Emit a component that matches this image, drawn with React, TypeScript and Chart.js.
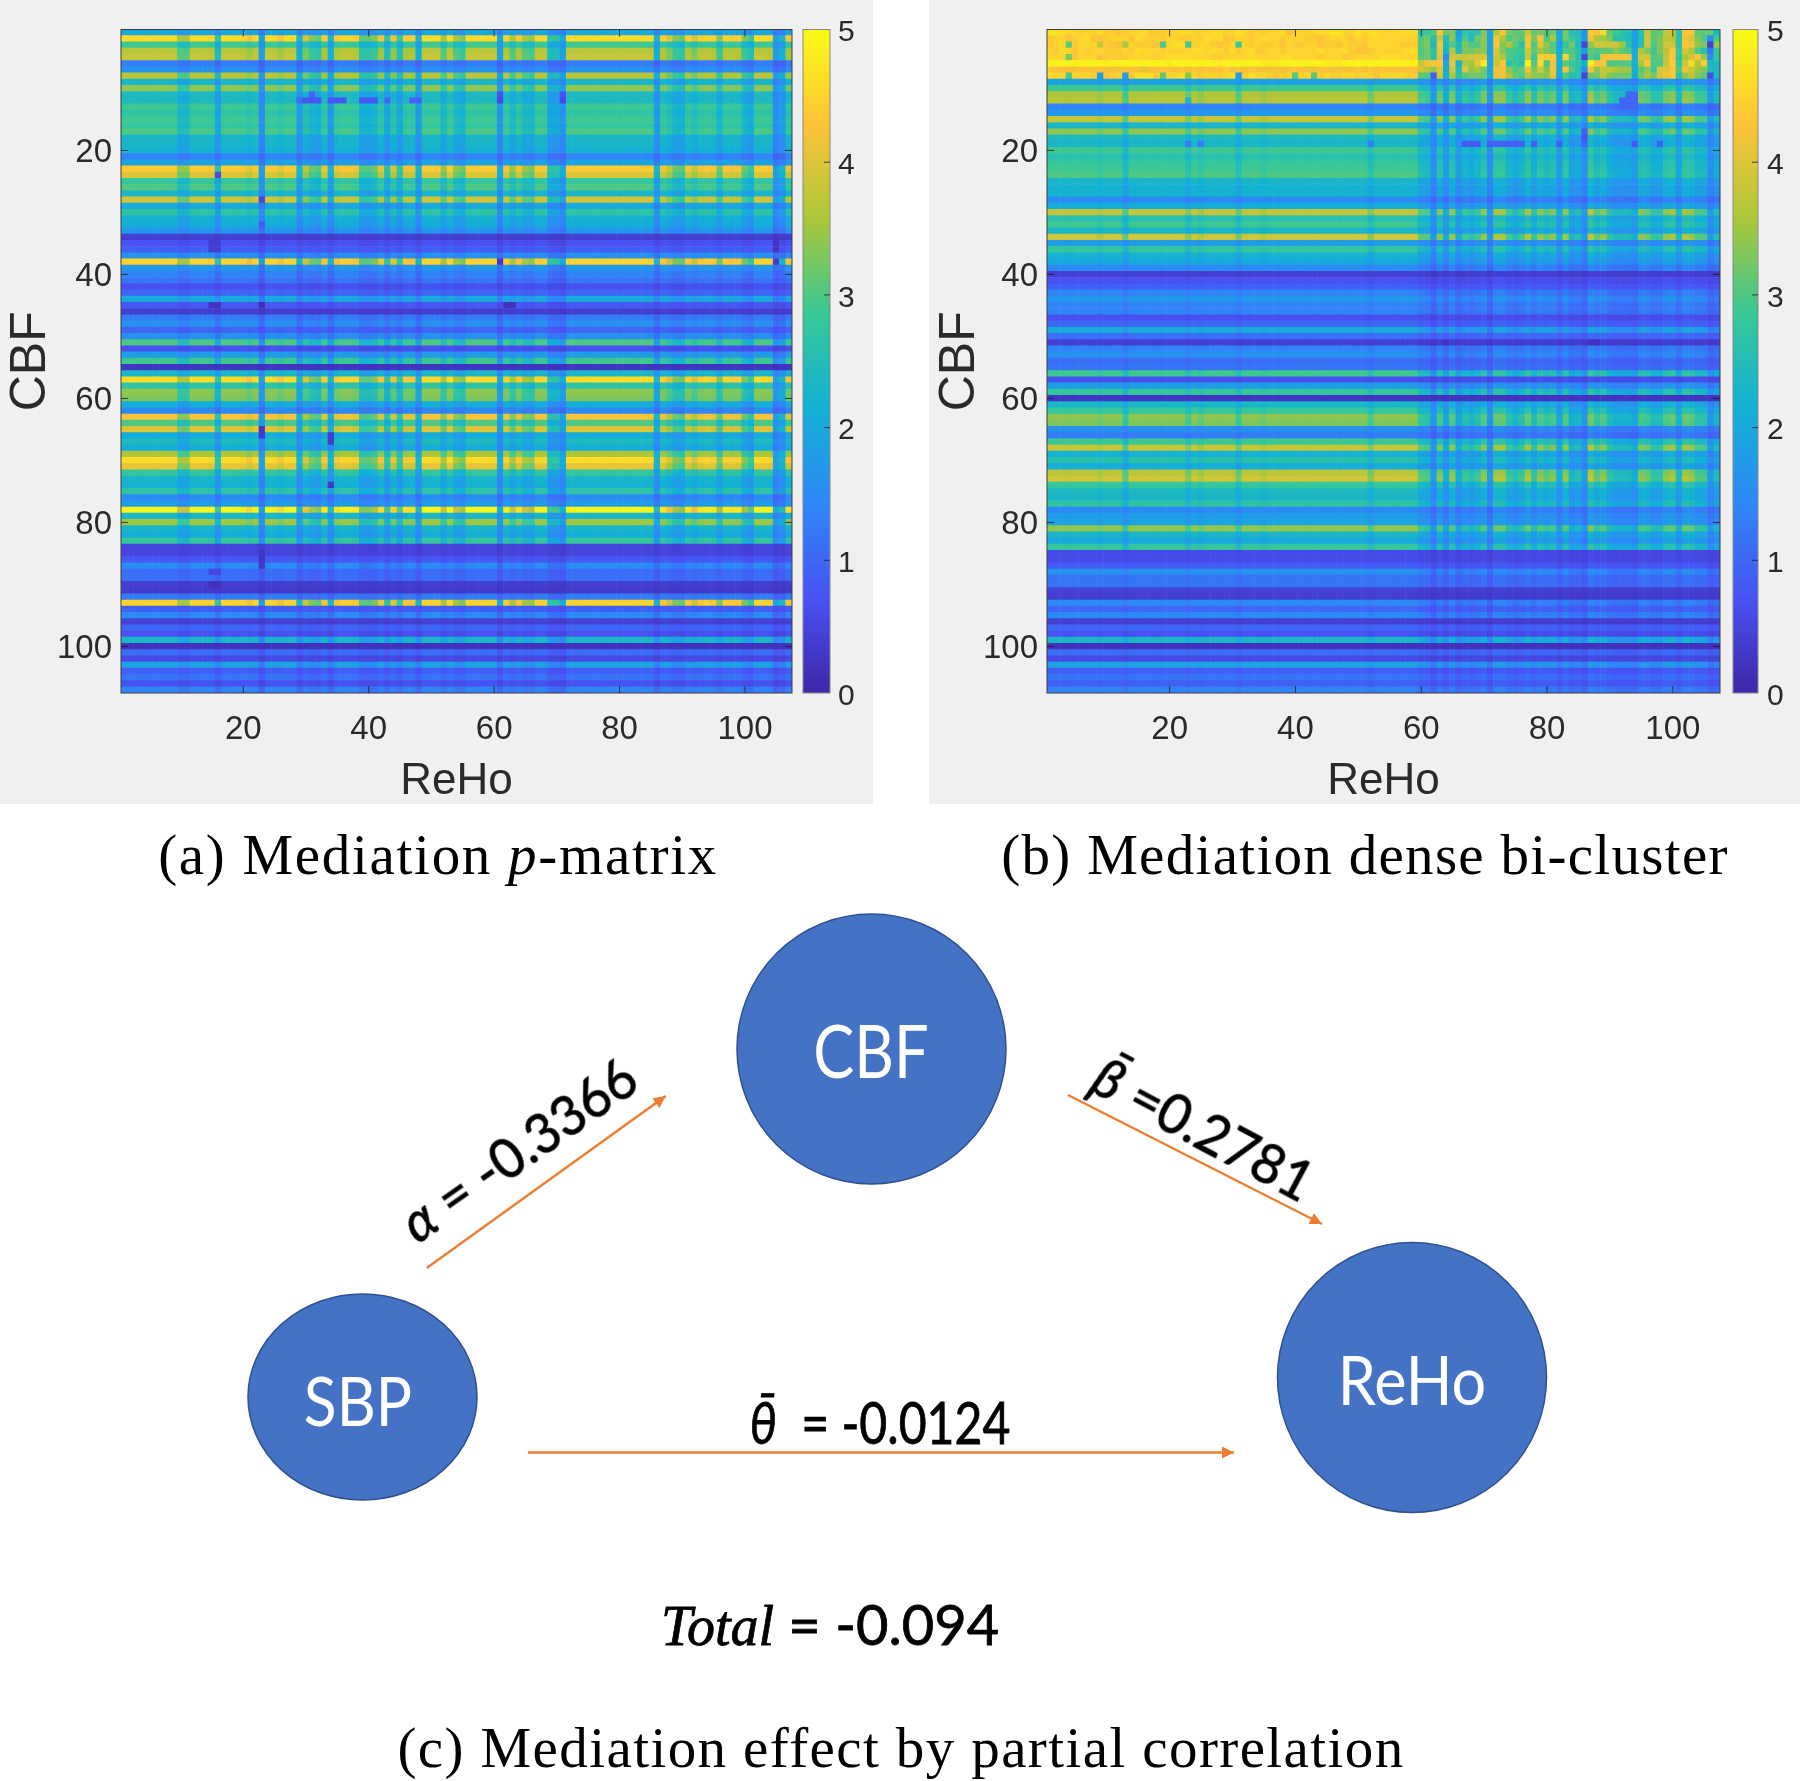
import React, { useEffect, useRef } from "react";
import { Chart, registerables } from "chart.js";

Chart.register(...registerables);

// Heatmap values: read from the reference as one level per CBF row, one factor per ReHo column,
// and lists of individually read cells. The picture's full 107x107 grid is not typed out cell by cell.
const axisTicks = [20, 40, 60, 80, 100];
const colorbarTicks = [0, 1, 2, 3, 4, 5];

const rowsA = [
  2.0, 4.6, 2.9, 3.7, 3.8, 1.3, 1.6, 3.7, 2.3, 3.4,
  2.4, 2.4, 2.9, 2.7, 2.9, 2.8, 3.0, 2.3, 2.3, 2.2,
  1.4, 1.9, 4.4, 4.0, 2.8, 3.0, 2.3, 3.9, 2.0, 2.7,
  2.2, 2.1, 1.7, 0.4, 0.7, 0.9, 1.6, 4.5, 1.7, 1.4,
  1.2, 0.7, 1.0, 2.0, 0.8, 0.4, 1.3, 1.6, 1.0, 1.6,
  3.0, 0.7, 1.8, 2.9, 0.25, 2.3, 4.6, 2.7, 3.4, 3.3,
  2.1, 1.5, 4.3, 3.0, 4.0, 2.1, 2.4, 2.1, 3.6, 4.6,
  4.1, 2.8, 2.3, 2.2, 2.7, 1.5, 1.8, 4.95, 2.3, 3.5,
  2.3, 2.1, 2.8, 0.5, 0.5, 0.8, 1.5, 1.1, 1.1, 0.4,
  0.35, 1.3, 4.5, 0.9, 1.5, 0.45, 1.0, 0.7, 2.3, 0.2,
  1.1, 0.6, 1.9, 0.9, 1.2, 0.7, 1.4,
];

const colsA = [
  1, 1, 1, 1, 1, 1, 1, 1, 1, 0.72,
  0.72, 1, 0.98, 1, 0.95, 0.6, 1, 1, 1, 0.95,
  0.85, 0.97, 0.5, 0.98, 0.95, 0.85, 1, 1, 0.55, 0.78,
  0.68, 0.65, 0.88, 0.55, 0.88, 0.95, 0.95, 0.9, 0.65, 0.65,
  0.68, 0.85, 0.6, 0.82, 0.62, 0.88, 0.88, 0.55, 1, 1,
  0.97, 0.72, 1, 0.72, 0.68, 1, 1, 1, 1, 1,
  0.52, 0.92, 0.72, 0.88, 0.72, 0.7, 0.95, 0.95, 0.6, 0.6,
  0.52, 1, 1, 1, 0.98, 1, 1, 0.98, 1, 1,
  1, 0.98, 1, 1, 1, 0.55, 0.9, 0.78, 0.68, 0.66,
  0.9, 0.78, 0.9, 0.95, 0.9, 0.68, 0.92, 0.9, 0.9, 0.68,
  0.62, 1, 1, 0.95, 0.5, 0.55, 0.85,
];

// [row, first column, last column, value]
const cellsA = [
  [12, 29, 29, 1.1], [12, 30, 32, 0.75], [12, 34, 36, 0.8], [12, 39, 41, 0.8], [12, 43, 43, 1.0], [12, 47, 48, 0.9],
  [11, 31, 31, 1.0], [11, 61, 61, 0.7], [12, 61, 61, 0.6], [12, 71, 71, 0.6], [11, 71, 71, 0.7],
  [35, 15, 16, 0.4], [36, 15, 16, 0.4], [45, 15, 16, 0.25], [45, 23, 23, 0.15], [45, 62, 63, 0.2],
  [65, 23, 23, 0.3], [66, 23, 23, 0.3], [66, 34, 34, 0.35], [67, 34, 34, 0.35], [74, 34, 34, 0.3],
  [85, 23, 23, 0.25], [86, 23, 23, 0.25], [87, 23, 23, 0.3], [88, 15, 16, 0.5], [90, 15, 16, 0.2],
  [28, 23, 23, 0.55], [24, 16, 16, 0.6], [32, 23, 23, 0.8], [38, 61, 61, 0.35], [38, 105, 105, 0.4],
  [36, 105, 105, 0.25], [35, 105, 105, 0.25], [34, 105, 105, 0.25],
];

const rowsB = [
  4.5, 4.4, 4.4, 4.5, 4.5, 4.95, 4.3, 4.4, 1.9, 2.9,
  3.6, 3.7, 1.4, 1.7, 3.8, 2.3, 3.4, 2.4, 2.3, 2.9,
  2.6, 2.8, 2.9, 3.0, 2.3, 2.2, 2.2, 1.5, 2.1, 3.8,
  2.6, 2.9, 2.3, 3.9, 1.8, 2.8, 2.2, 2.0, 1.5, 0.4,
  0.7, 0.9, 1.4, 1.7, 1.4, 1.4, 0.7, 1.0, 2.0, 1.1,
  0.4, 1.4, 1.6, 1.1, 1.2, 2.9, 0.7, 1.8, 2.8, 0.25,
  2.3, 2.8, 3.4, 3.3, 1.6, 1.3, 2.9, 3.8, 2.2, 2.6,
  2.1, 3.7, 3.9, 2.8, 2.4, 2.3, 2.7, 1.5, 1.8, 1.9,
  3.4, 2.3, 2.0, 2.8, 0.6, 0.6, 0.85, 1.6, 1.2, 1.2,
  0.45, 0.4, 1.5, 1.0, 1.5, 0.4, 1.0, 0.7, 2.3, 0.2,
  1.1, 0.6, 1.9, 0.9, 1.2, 0.9, 1.4,
];

const colsB = [
  1, 1, 1, 0.95, 1, 1, 1, 1, 0.88, 1,
  1, 1, 0.72, 1, 1, 1, 1, 1, 1, 1,
  1, 1, 0.78, 1, 0.85, 1, 1, 1, 1, 1,
  0.75, 1, 1, 1, 0.88, 1, 1, 1, 1, 1,
  1, 1, 1, 1, 1, 1, 1, 1, 1, 1,
  1, 0.78, 1, 1, 1, 1, 1, 1, 1, 0.72,
  0.7, 0.5, 0.78, 0.55, 0.8, 0.55, 0.68, 0.62, 0.68, 0.8,
  0.5, 0.85, 0.85, 0.68, 0.62, 0.68, 0.85, 0.65, 0.8, 0.72,
  0.78, 0.55, 0.8, 0.58, 0.62, 0.5, 0.9, 0.72, 0.8, 0.65,
  0.6, 0.6, 0.6, 0.55, 0.78, 0.75, 0.65, 0.65, 0.8, 0.85,
  0.6, 0.85, 0.82, 0.7, 0.7, 0.5, 0.6,
];

// Rows 1-8 of panel (b), columns 1-59, read cell by cell: each digit d means 4 + d / 10.
const topLeftB = [
  "77755455644345564445566555665575454556345556677557566555666",
  "45534563345553654545544546563455456554555443455535456555555",
  "45644555643255444345665555434555454453544553443544355555444",
  "54653545544454655545555665654645644554555556555643345555566",
  "55543555344445555456666555445555655556655554555345555666555",
  "99999999989999999998999999989999998889999999888999999999999",
  "43322333322233212333232323334232322222233223322223232333333",
  "65575554434554666465566545545654655434565554544554553555544",
];

// Rows 1-8 of panel (b), columns 60-107, read cell by cell.
const topRightB = [
  [2.7, 2.8, 3.0, 4.3, 3.2, 3.3, 1.8, 2.7, 2.5, 2.6, 3.3, 1.9, 3.6, 4.3, 3.3, 3.1, 3.1, 3.8, 3.1, 3.3, 3.0, 3.2, 1.9, 3.2, 2.5, 2.5, 1.6, 4.4, 4.3, 4.6, 3.1, 2.9, 2.6, 2.5, 1.8, 2.6, 3.8, 3.1, 3.1, 3.8, 3.8, 2.5, 4.3, 4.3, 3.1, 3.1, 3.1, 2.3],
  [3.0, 3.2, 2.6, 3.8, 2.5, 3.4, 2.0, 3.0, 2.4, 3.2, 3.4, 1.9, 4.2, 3.6, 3.0, 3.2, 3.0, 4.2, 3.3, 4.2, 3.0, 3.6, 2.0, 3.2, 2.8, 2.6, 1.8, 4.2, 3.6, 3.5, 3.3, 2.6, 2.6, 2.5, 1.9, 2.5, 3.9, 3.1, 3.3, 3.7, 3.7, 2.6, 4.2, 3.9, 3.3, 3.0, 1.5, 2.9],
  [3.1, 3.3, 2.4, 4.2, 2.4, 3.0, 2.4, 3.3, 3.0, 3.0, 3.4, 1.9, 4.3, 3.3, 3.6, 3.1, 2.6, 4.2, 3.0, 4.0, 3.4, 3.0, 1.8, 2.8, 3.2, 2.4, 0.5, 3.4, 3.9, 3.9, 3.9, 3.9, 3.5, 2.6, 1.8, 2.5, 3.9, 3.0, 3.3, 3.9, 3.9, 2.6, 4.3, 4.2, 3.4, 3.3, 0.4, 3.4],
  [3.0, 3.2, 2.6, 4.1, 2.2, 3.7, 2.4, 3.3, 3.2, 3.4, 3.4, 1.9, 4.0, 3.3, 3.0, 2.9, 2.8, 3.9, 3.1, 3.5, 3.3, 3.1, 2.0, 3.0, 3.0, 2.6, 1.8, 3.1, 3.0, 3.1, 3.1, 3.4, 3.1, 3.0, 2.0, 3.6, 3.3, 2.9, 3.3, 3.7, 4.3, 2.8, 3.9, 3.6, 3.0, 2.6, 1.2, 2.8],
  [3.1, 3.2, 2.7, 4.0, 1.5, 3.9, 3.9, 3.8, 3.9, 4.0, 4.0, 1.9, 3.9, 3.6, 3.0, 2.8, 2.7, 3.8, 2.8, 4.4, 4.4, 4.4, 2.2, 4.5, 3.1, 2.6, 0.5, 3.0, 2.8, 4.2, 4.3, 4.3, 4.3, 4.2, 2.1, 3.9, 3.9, 3.0, 3.1, 3.8, 4.3, 2.7, 3.6, 3.9, 4.3, 3.5, 1.6, 2.8],
  [3.8, 4.2, 4.3, 4.3, 1.9, 4.1, 2.2, 3.6, 3.5, 4.1, 4.8, 1.9, 3.8, 4.3, 2.6, 2.9, 2.6, 4.9, 3.0, 4.6, 3.0, 4.2, 2.1, 3.1, 2.8, 2.7, 2.2, 4.9, 4.3, 4.3, 3.0, 3.0, 3.0, 3.0, 2.2, 3.6, 4.3, 3.0, 3.0, 3.8, 4.4, 2.8, 3.9, 4.6, 3.6, 4.4, 2.3, 2.4],
  [3.9, 3.7, 3.4, 4.0, 2.0, 3.9, 2.5, 4.0, 3.4, 3.6, 3.2, 2.0, 4.2, 4.2, 3.4, 3.0, 3.1, 4.1, 3.3, 3.9, 3.3, 4.2, 2.1, 4.2, 3.0, 2.6, 1.5, 4.2, 3.4, 3.8, 3.8, 3.6, 3.5, 3.5, 2.2, 3.1, 3.4, 2.9, 3.9, 4.0, 4.3, 3.0, 4.1, 3.8, 3.5, 3.3, 2.4, 2.4],
  [3.1, 3.0, 0.9, 3.9, 2.2, 3.6, 2.6, 3.1, 3.2, 3.2, 3.2, 2.1, 4.1, 4.2, 3.6, 3.2, 3.0, 3.7, 3.4, 3.4, 3.4, 4.1, 2.0, 3.0, 2.6, 2.6, 0.5, 3.2, 3.2, 3.8, 3.3, 3.2, 3.2, 3.2, 2.0, 3.2, 3.6, 3.2, 3.9, 4.2, 4.4, 2.7, 3.4, 3.8, 3.3, 3.1, 0.6, 2.3],
];

const cellsB = [
  [3, 4, 4, 3.1], [3, 9, 9, 3.8], [3, 13, 13, 3.6], [3, 19, 19, 3.0], [3, 23, 23, 3.0], [3, 31, 31, 2.9],
  [5, 4, 4, 3.2], [8, 4, 4, 3.0], [8, 9, 9, 1.8], [8, 13, 13, 1.8], [8, 19, 19, 3.1], [8, 23, 23, 3.4], [8, 31, 31, 1.8], [8, 40, 40, 3.1], [8, 43, 43, 3.1],
  [18, 86, 86, 0.7], [17, 86, 86, 0.9],
  [19, 67, 69, 0.8], [19, 71, 73, 0.9], [19, 74, 76, 0.9], [19, 78, 78, 0.9], [19, 82, 82, 0.9], [19, 86, 86, 1.0], [19, 94, 94, 0.8], [19, 98, 98, 0.9],
  [11, 93, 94, 1.0], [12, 92, 94, 1.0], [13, 92, 94, 1.0],
  [51, 87, 88, 0.2], [51, 64, 64, 0.2], [51, 62, 62, 0.3], [51, 71, 71, 0.3],
  [12, 23, 23, 2.3], [19, 23, 23, 1.3], [19, 25, 25, 1.3], [19, 52, 52, 1.3],
];

const nodeNames = ["CBF", "SBP", "ReHo"];
const nodeX = [871.5, 362.5, 1412];
const nodeY = [1049, 1397, 1377.5];
const nodeRx = [134.5, 114.5, 134.5];
const nodeRy = [135, 103, 135];
const arrowStart = [[426.7, 1268], [1068, 1095], [528, 1452.5]];
const arrowEnd = [[665.7, 1096], [1322, 1224], [1234, 1452.5]];

const PARULA = [
  [62, 38, 168], [72, 82, 244], [46, 135, 247], [18, 177, 214],
  [55, 200, 151], [171, 199, 57], [254, 195, 56], [249, 251, 21],
];

function parula(v: number) {
  const t = Math.max(0, Math.min(1, v / 5)) * (PARULA.length - 1);
  const i = Math.min(PARULA.length - 2, Math.floor(t));
  const f = t - i;
  const c = PARULA[i].map((a, k) => Math.round(a + (PARULA[i + 1][k] - a) * f));
  return `rgb(${c[0]},${c[1]},${c[2]})`;
}

function combine(row: number, col: number) {
  const d = 1 - col;
  if (d <= 0) return row;
  const drop = d * Math.pow(d / 0.5, 0.7) * Math.min(1.2, 0.4 + row * 0.17);
  return row * Math.max(0.15, 1 - drop);
}

function buildCells(rows: number[], cols: number[], cells: number[][], topLeft?: string[], topRight?: number[][]) {
  const points: { x: number; y: number }[] = [];
  const colors: string[] = [];
  const special = new Map<string, number>();
  cells.forEach(([r, a, b, v]) => {
    for (let c = a; c <= b; c++) special.set(`${r}:${c}`, v);
  });
  rows.forEach((level, ri) => {
    cols.forEach((factor, ci) => {
      let v: number;
      const key = `${ri + 1}:${ci + 1}`;
      if (special.has(key)) v = special.get(key) as number;
      else if (topRight && ri < 8 && ci >= 59) v = topRight[ri][ci - 59];
      else if (topLeft && ri < 8) v = 4 + Number(topLeft[ri][ci]) / 10;
      else v = combine(level, factor);
      points.push({ x: ci + 1, y: ri + 1 });
      colors.push(parula(v));
    });
  });
  return { points, colors };
}

const FONT = "'Liberation Sans', Arial, sans-serif";
const INK = "#2a2a2a";

function zeroPadding(s: any) {
  s.paddingTop = 0; s.paddingBottom = 0; s.paddingLeft = 0; s.paddingRight = 0;
}

function HeatmapChart({ left, width, plotLeft, plotRight, rows, cols, cells, topLeft, topRight, barLeft, barRight, labelLeft }: any) {
  const ref = useRef<HTMLCanvasElement>(null);
  useEffect(() => {
    const { points, colors } = buildCells(rows, cols, cells, topLeft, topRight);
    const plotTop = 29.5;
    const plotBottom = 693;
    const height = 804;
    const decorate = {
      id: "decorate",
      afterDraw(chart: any) {
        const { ctx, chartArea: a, scales } = chart;
        ctx.save();
        ctx.strokeStyle = "#3c3c3c";
        ctx.lineWidth = 1;
        ctx.strokeRect(a.left, a.top, a.right - a.left, a.bottom - a.top);
        ctx.strokeStyle = "rgba(30,30,30,0.8)";
        ctx.beginPath();
        axisTicks.forEach((t) => {
          const px = scales.x.getPixelForValue(t);
          const py = scales.y.getPixelForValue(t);
          ctx.moveTo(px, a.top); ctx.lineTo(px, a.top + 7);
          ctx.moveTo(px, a.bottom); ctx.lineTo(px, a.bottom - 7);
          ctx.moveTo(a.left, py); ctx.lineTo(a.left + 7, py);
          ctx.moveTo(a.right, py); ctx.lineTo(a.right - 7, py);
        });
        ctx.stroke();
        const cb = scales.cb;
        const y0 = cb.getPixelForValue(0);
        const y5 = cb.getPixelForValue(5);
        const g = ctx.createLinearGradient(0, y0, 0, y5);
        PARULA.forEach((_, i) => g.addColorStop(i / (PARULA.length - 1), parula((i / (PARULA.length - 1)) * 5)));
        ctx.fillStyle = g;
        ctx.fillRect(barLeft, y5, barRight - barLeft, y0 - y5);
        ctx.strokeStyle = "#888888";
        ctx.strokeRect(barLeft, y5, barRight - barLeft, y0 - y5);
        ctx.strokeStyle = "rgba(30,30,30,0.8)";
        ctx.beginPath();
        colorbarTicks.slice(1, 5).forEach((t) => {
          const p = cb.getPixelForValue(t);
          ctx.moveTo(barRight, p); ctx.lineTo(barRight - 6, p);
        });
        ctx.stroke();
        ctx.restore();
      },
    };
    const chart = new Chart(ref.current as HTMLCanvasElement, {
      type: "scatter",
      data: {
        datasets: [{
          data: points,
          pointStyle: "rect",
          pointRadius: 4.85,
          pointHoverRadius: 4.85,
          pointBorderWidth: 0,
          pointBackgroundColor: colors,
          showLine: false,
          clip: 0,
        } as any],
      },
      options: {
        responsive: false,
        animation: false,
        events: [],
        layout: { autoPadding: false, padding: { top: plotTop, left: 0, right: 0, bottom: 0 } },
        plugins: { legend: { display: false }, tooltip: { enabled: false } },
        scales: {
          x: {
            type: "linear", min: 0.5, max: 107.5,
            afterBuildTicks: (s: any) => { s.ticks = axisTicks.map((value) => ({ value })); },
            afterFit: (s: any) => { s.height = height - plotBottom; zeroPadding(s); },
            grid: { display: false, drawTicks: false },
            border: { display: false },
            ticks: { color: INK, font: { family: FONT, size: 33 }, padding: 17, maxRotation: 0, autoSkip: false },
            title: { display: true, text: "ReHo", color: INK, padding: 0, font: { family: FONT, size: 44, lineHeight: 1 } },
          },
          y: {
            type: "linear", min: 0.5, max: 107.5, reverse: true,
            afterBuildTicks: (s: any) => { s.ticks = axisTicks.map((value) => ({ value })); },
            afterFit: (s: any) => { s.width = plotLeft; zeroPadding(s); },
            grid: { display: false, drawTicks: false },
            border: { display: false },
            ticks: { color: INK, font: { family: FONT, size: 33 }, padding: 9, labelOffset: 2.5, autoSkip: false },
            title: { display: true, text: "CBF", color: INK, padding: { top: 6, bottom: 0 }, font: { family: FONT, size: 50, lineHeight: 1 } },
          },
          cb: {
            axis: "y", type: "linear", position: "right", min: 0, max: 5,
            afterBuildTicks: (s: any) => { s.ticks = colorbarTicks.map((value) => ({ value })); },
            afterFit: (s: any) => { s.width = width - plotRight; zeroPadding(s); },
            grid: { display: false, drawTicks: false },
            border: { display: false },
            ticks: { color: INK, font: { family: FONT, size: 30 }, padding: labelLeft - plotRight, labelOffset: 3.5, autoSkip: false },
          },
        } as any,
      },
      plugins: [decorate],
    });
    return () => chart.destroy();
  }, []);
  return (
    <div style={{ position: "absolute", left, top: 0, width, height: 804, background: "#f0f0f0" }}>
      <canvas ref={ref} width={width} height={804} style={{ display: "block" }} />
    </div>
  );
}

function DiagramChart() {
  const ref = useRef<HTMLCanvasElement>(null);
  useEffect(() => {
    const shapes = {
      id: "shapes",
      beforeDatasetsDraw(chart: any) {
        const { ctx, scales } = chart;
        nodeNames.forEach((_, i) => {
          const cx = scales.x.getPixelForValue(nodeX[i]);
          const cy = scales.y.getPixelForValue(nodeY[i]);
          const rx = scales.x.getPixelForValue(nodeX[i] + nodeRx[i]) - cx;
          const ry = scales.y.getPixelForValue(nodeY[i] + nodeRy[i]) - cy;
          ctx.save();
          ctx.beginPath();
          ctx.ellipse(cx, cy, rx, ry, 0, 0, Math.PI * 2);
          ctx.fillStyle = "#4472c4";
          ctx.fill();
          ctx.strokeStyle = "#2f528f";
          ctx.lineWidth = 1.5;
          ctx.stroke();
          ctx.restore();
        });
      },
      afterDatasetsDraw(chart: any) {
        const { ctx, scales } = chart;
        arrowEnd.forEach((end, i) => {
          const sx = scales.x.getPixelForValue(arrowStart[i][0]);
          const sy = scales.y.getPixelForValue(arrowStart[i][1]);
          const ex = scales.x.getPixelForValue(end[0]);
          const ey = scales.y.getPixelForValue(end[1]);
          const ang = Math.atan2(ey - sy, ex - sx);
          ctx.save();
          ctx.translate(ex, ey);
          ctx.rotate(ang);
          ctx.beginPath();
          ctx.moveTo(0, 0);
          ctx.lineTo(-12, -6);
          ctx.lineTo(-12, 6);
          ctx.closePath();
          ctx.fillStyle = "#ed7d31";
          ctx.fill();
          ctx.restore();
        });
      },
    };
    const chart = new Chart(ref.current as HTMLCanvasElement, {
      type: "scatter",
      data: {
        datasets: arrowStart.map((s, i) => ({
          data: [{ x: s[0], y: s[1] }, { x: arrowEnd[i][0], y: arrowEnd[i][1] }],
          showLine: true,
          borderColor: "#ed7d31",
          borderWidth: 2.4,
          pointRadius: 0,
        })),
      },
      options: {
        responsive: false,
        animation: false,
        events: [],
        layout: { padding: 0 },
        plugins: { legend: { display: false }, tooltip: { enabled: false } },
        scales: {
          x: { type: "linear", min: 0, max: 1800, display: false },
          y: { type: "linear", min: 0, max: 1781, reverse: true, display: false },
        },
      },
      plugins: [shapes],
    });
    return () => chart.destroy();
  }, []);
  return <canvas ref={ref} width={1800} height={1781} style={{ position: "absolute", left: 0, top: 0, pointerEvents: "none" }} />;
}

function Label({ x, y, rotate = 0, size, color = "#000", family = "Lato", spacing = 0, stretch = 1, stroke = 0, children }: any) {
  return (
    <div style={{
      position: "absolute", left: x, top: y, whiteSpace: "pre", fontFamily: family, fontSize: size, color,
      letterSpacing: spacing, lineHeight: 1, WebkitTextStroke: stroke ? `${stroke}px ${color}` : undefined,
      transform: `translate(-50%,-50%) rotate(${rotate}deg) scaleX(${stretch})`,
    }}>{children}</div>
  );
}

const SERIF = "'Liberation Serif', serif";

export default function App() {
  return (
    <div style={{ position: "absolute", left: 0, top: 0, width: 1800, height: 1781, background: "#fff", overflow: "hidden" }}>
      <HeatmapChart left={0} width={873} plotLeft={121} plotRight={792} rows={rowsA} cols={colsA} cells={cellsA} barLeft={803} barRight={830} labelLeft={838} />
      <HeatmapChart left={929} width={871} plotLeft={118} plotRight={791} rows={rowsB} cols={colsB} cells={cellsB} topLeft={topLeftB} topRight={topRightB} barLeft={804} barRight={829} labelLeft={838} />
      <DiagramChart />
      <Label x={438} y={854} size={57} family={SERIF} spacing={1.7}>(a) Mediation <i>p</i>-matrix</Label>
      <Label x={1365} y={854} size={57} family={SERIF} spacing={1.3}>(b) Mediation dense bi-cluster</Label>
      <Label x={901} y={1747} size={57} family={SERIF} spacing={1.4}>(c) Mediation effect by partial correlation</Label>
      <Label x={871} y={1050} size={74} color="#fff" stretch={0.83}>CBF</Label>
      <Label x={358} y={1400} size={68} color="#fff" stretch={0.89}>SBP</Label>
      <Label x={1412} y={1379} size={68} color="#fff" stretch={0.9}>ReHo</Label>
      <Label x={518} y={1149} size={56} rotate={-35} stretch={0.95} stroke={0.8}><i>α</i> = -0.3366</Label>
      <Label x={1204} y={1128} size={56} rotate={28} stretch={0.96} stroke={0.8}><i>β̄</i> =0.2781</Label>
      <Label x={880} y={1422} size={58} stretch={0.83} stroke={0.8}><i>θ̄</i>  = -0.0124</Label>
      <Label x={830} y={1625} size={56} stroke={0.8}><i style={{ fontFamily: SERIF }}>Total</i> = -0.094</Label>
    </div>
  );
}
